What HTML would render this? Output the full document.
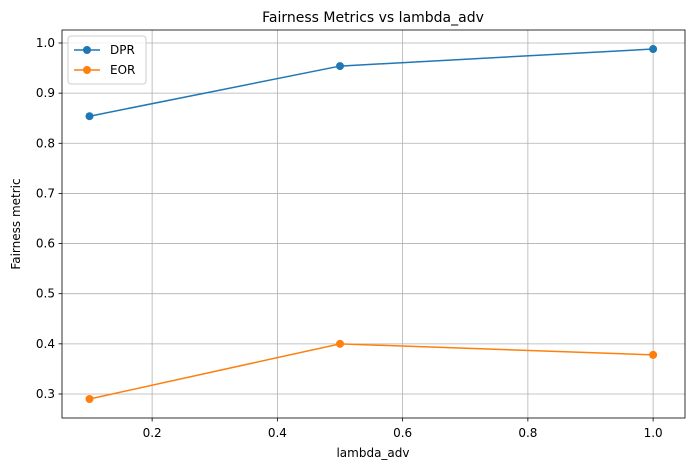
<!DOCTYPE html>
<html><head><meta charset="utf-8"><style>
body{margin:0;background:#fff;font-family:"Liberation Sans","DejaVu Sans",sans-serif}
svg text{font-family:"DejaVu Sans","Liberation Sans",sans-serif;fill:#000}
</style></head><body>
<svg id="chart" width="691" height="470" xmlns="http://www.w3.org/2000/svg">
<rect width="691" height="470" fill="#fff"/>
<g id="grid"></g>
<g id="series"></g>
<rect x="62" y="30" width="623" height="388" fill="none" stroke="#000" stroke-width="0.8"/>
<g id="ticks"></g>
<text x="373" y="22" font-size="14" text-anchor="middle">Fairness Metrics vs lambda_adv</text>
<text x="373" y="457" font-size="12" text-anchor="middle">lambda_adv</text>
<text x="20" y="224" font-size="12" text-anchor="middle" transform="rotate(-90 20 224)">Fairness metric</text>
<g>
<rect x="68" y="36" width="78" height="48" rx="3" fill="#fff" fill-opacity="0.8" stroke="#ccc"/>
<g><line x1="74" y1="50" x2="100" y2="50" stroke="#1f77b4" stroke-width="1.5"/><circle cx="87" cy="50" r="4" fill="#1f77b4"/><text x="110" y="54" font-size="12">DPR</text></g>
<g><line x1="74" y1="70" x2="100" y2="70" stroke="#ff7f0e" stroke-width="1.5"/><circle cx="87" cy="70" r="4" fill="#ff7f0e"/><text x="110" y="74" font-size="12">EOR</text></g>
</g>
</svg>
<script>
const xValues=[0.1,0.5,1.0];
const dprValues=[0.854,0.954,0.988];
const eorValues=[0.29,0.400,0.378];
const xTicks=[0.2,0.4,0.6,0.8,1.0];
const yTicks=[0.3,0.4,0.5,0.6,0.7,0.8,0.9,1.0];
const NS="http://www.w3.org/2000/svg";
function X(v){return 89.5+(v-0.1)*626.25;}
function Y(v){return 43+(1.0-v)*501.4;}
function mk(t,a,p){const e=document.createElementNS(NS,t);for(const k in a)e.setAttribute(k,a[k]);p.appendChild(e);return e;}
const grid=document.getElementById('grid'),ticks=document.getElementById('ticks'),ser=document.getElementById('series');
xTicks.forEach(v=>{const x=X(v);
const g=mk('line',{x1:x,x2:x,y1:30,y2:418,stroke:'#b0b0b0','stroke-width':0.8},grid);

mk('line',{x1:x,x2:x,y1:418,y2:421.5,stroke:'#000','stroke-width':0.8},ticks);
const t=mk('text',{x:x,y:437,'font-size':12,'text-anchor':'middle'},ticks);t.textContent=v.toFixed(1);
});
yTicks.forEach(v=>{const y=Y(v);
const g=mk('line',{x1:62,x2:685,y1:y,y2:y,stroke:'#b0b0b0','stroke-width':0.8},grid);

mk('line',{x1:58.5,x2:62,y1:y,y2:y,stroke:'#000','stroke-width':0.8},ticks);
const t=mk('text',{x:55,y:y+4,'font-size':12,'text-anchor':'end'},ticks);t.textContent=v.toFixed(1);
});
function draw(vals,color,name){
const p=mk('polyline',{points:vals.map((v,i)=>X(xValues[i])+','+Y(v)).join(' '),fill:'none',stroke:color,'stroke-width':1.5},ser);

vals.forEach((v,i)=>{const c=mk('circle',{cx:X(xValues[i]),cy:Y(v),r:4,fill:color},ser);
});}
draw(dprValues,'#1f77b4','dpr');
draw(eorValues,'#ff7f0e','eor');
</script>
</body></html>
